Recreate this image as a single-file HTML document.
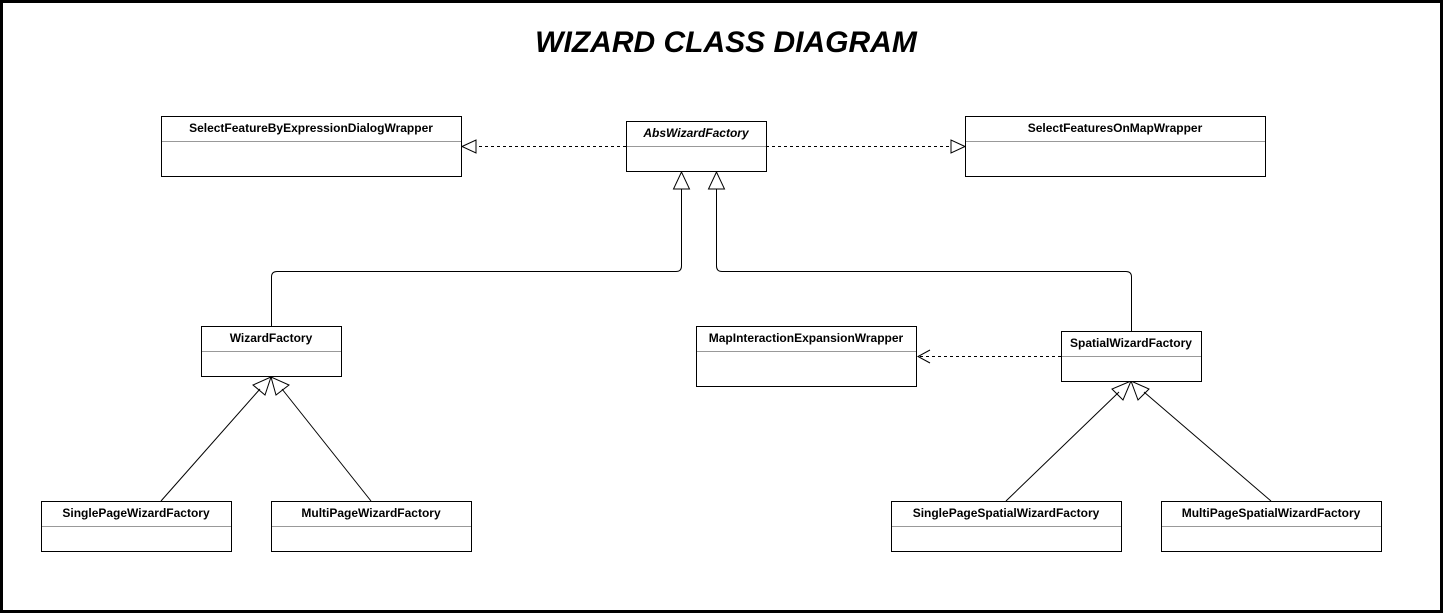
<!DOCTYPE html>
<html><head><style>
html,body{margin:0;padding:0;background:#fff;}
svg{display:block;}
text{font-family:"Liberation Sans",Arial,sans-serif;}
</style></head><body>
<svg width="1443" height="613" viewBox="0 0 1443 613" xmlns="http://www.w3.org/2000/svg">
<rect x="1.5" y="1.5" width="1440" height="610" fill="#fff" stroke="#000" stroke-width="3"/>
<text x="726" y="52" text-anchor="middle" font-size="30" font-weight="bold" font-style="italic">WIZARD CLASS DIAGRAM</text>
<g fill="none" stroke="#000" stroke-width="1">
<path d="M626,146.5 H476" stroke-dasharray="3,3"/>
<path d="M462,146.5 L476,140 L476,153 Z"/>
<path d="M766,146.5 H951" stroke-dasharray="3,3"/>
<path d="M965,146.5 L951,140 L951,153 Z"/>
<path d="M1061,356.5 H918" stroke-dasharray="3,3"/>
<path d="M930,350 L918,356.5 L930,363"/>
<path d="M271.5,326 V277 Q271.5,271.5 277,271.5 H676 Q681.5,271.5 681.5,266 V189"/>
<path d="M681.5,172 L673.5,189 L689.5,189 Z"/>
<path d="M1131.5,331 V277 Q1131.5,271.5 1126,271.5 H722 Q716.5,271.5 716.5,266 V189"/>
<path d="M716.5,172 L708.5,189 L724.5,189 Z"/>
<path d="M161,501 L260,389"/>
<path d="M271,377 L253,385 L265,395 Z"/>
<path d="M371,501 L282,389"/>
<path d="M271,377 L276,395 L289,385 Z"/>
<path d="M1006,501 L1119,392"/>
<path d="M1131,381 L1112,389 L1123,400 Z"/>
<path d="M1271,501 L1144,392"/>
<path d="M1131,381 L1138,400 L1149,389 Z"/>
</g>
<g fill="#fff" stroke="#000" stroke-width="1">
<rect x="161.5" y="116.5" width="300" height="60"/>
<rect x="626.5" y="121.5" width="140" height="50"/>
<rect x="965.5" y="116.5" width="300" height="60"/>
<rect x="201.5" y="326.5" width="140" height="50"/>
<rect x="696.5" y="326.5" width="220" height="60"/>
<rect x="1061.5" y="331.5" width="140" height="50"/>
<rect x="41.5" y="501.5" width="190" height="50"/>
<rect x="271.5" y="501.5" width="200" height="50"/>
<rect x="891.5" y="501.5" width="230" height="50"/>
<rect x="1161.5" y="501.5" width="220" height="50"/>
</g>
<g stroke="#999" stroke-width="1">
<path d="M162,141.5 H461"/><path d="M627,146.5 H766"/><path d="M966,141.5 H1265"/>
<path d="M202,351.5 H341"/><path d="M697,351.5 H916"/><path d="M1062,356.5 H1201"/>
<path d="M42,526.5 H231"/><path d="M272,526.5 H471"/><path d="M892,526.5 H1121"/><path d="M1162,526.5 H1381"/>
</g>
<g font-size="12" font-weight="bold" text-anchor="middle">
<text x="311" y="132">SelectFeatureByExpressionDialogWrapper</text>
<text x="696" y="137" font-style="italic">AbsWizardFactory</text>
<text x="1115" y="132">SelectFeaturesOnMapWrapper</text>
<text x="271" y="342">WizardFactory</text>
<text x="806" y="342">MapInteractionExpansionWrapper</text>
<text x="1131" y="347">SpatialWizardFactory</text>
<text x="136" y="517">SinglePageWizardFactory</text>
<text x="371" y="517">MultiPageWizardFactory</text>
<text x="1006" y="517">SinglePageSpatialWizardFactory</text>
<text x="1271" y="517">MultiPageSpatialWizardFactory</text>
</g>
</svg>
</body></html>
